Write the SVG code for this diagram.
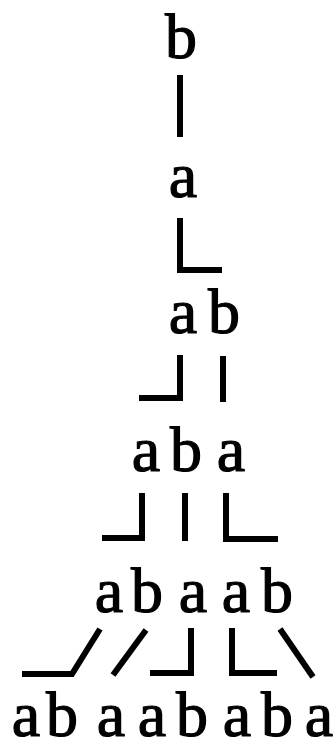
<svg xmlns="http://www.w3.org/2000/svg" width="335" height="750" viewBox="0 0 335 750">
<style>
.t{font-family:"Liberation Serif","DejaVu Serif",serif;font-size:64px;fill:#000;stroke:#000;stroke-width:1.2;text-anchor:middle}
.c{fill:none;stroke:#000;stroke-width:6;stroke-linejoin:miter;stroke-linecap:butt}
</style>
<rect width="335" height="750" fill="#fff"/>
<g id="connectors" class="c">
<path d="M180,75 V137"/>
<path d="M180,218 V270 H222"/>
<path d="M180,355 V398 H139"/>
<path d="M223,356 V402"/>
<path d="M142,493 V538 H102"/>
<path d="M185,493 V541"/>
<path d="M226,493 V539 H278"/>
<path d="M100,629 L72,674 H22"/>
<path d="M146,630 L113,675"/>
<path d="M191,628 V673 H150"/>
<path d="M232,628 V673 H277"/>
<path d="M280,629 L313,677"/>
</g>
<g id="r1"><text class="t" x="181" y="58">b</text></g>
<g id="r2"><text class="t" x="183" y="197">a</text></g>
<g id="r3"><text class="t" x="183" y="333">a</text><text class="t" x="224" y="333">b</text></g>
<g id="r4"><text class="t" x="146" y="471">a</text><text class="t" x="186" y="471">b</text><text class="t" x="231" y="471">a</text></g>
<g id="r5"><text class="t" x="109" y="612">a</text><text class="t" x="147" y="612">b</text><text class="t" x="193" y="612">a</text><text class="t" x="236" y="612">a</text><text class="t" x="277" y="612">b</text></g>
<g id="r6"><text class="t" x="26" y="736">a</text><text class="t" x="62" y="736">b</text><text class="t" x="111" y="736">a</text><text class="t" x="152" y="736">a</text><text class="t" x="192" y="736">b</text><text class="t" x="237" y="736">a</text><text class="t" x="277" y="736">b</text><text class="t" x="319" y="736">a</text></g>
</svg>
